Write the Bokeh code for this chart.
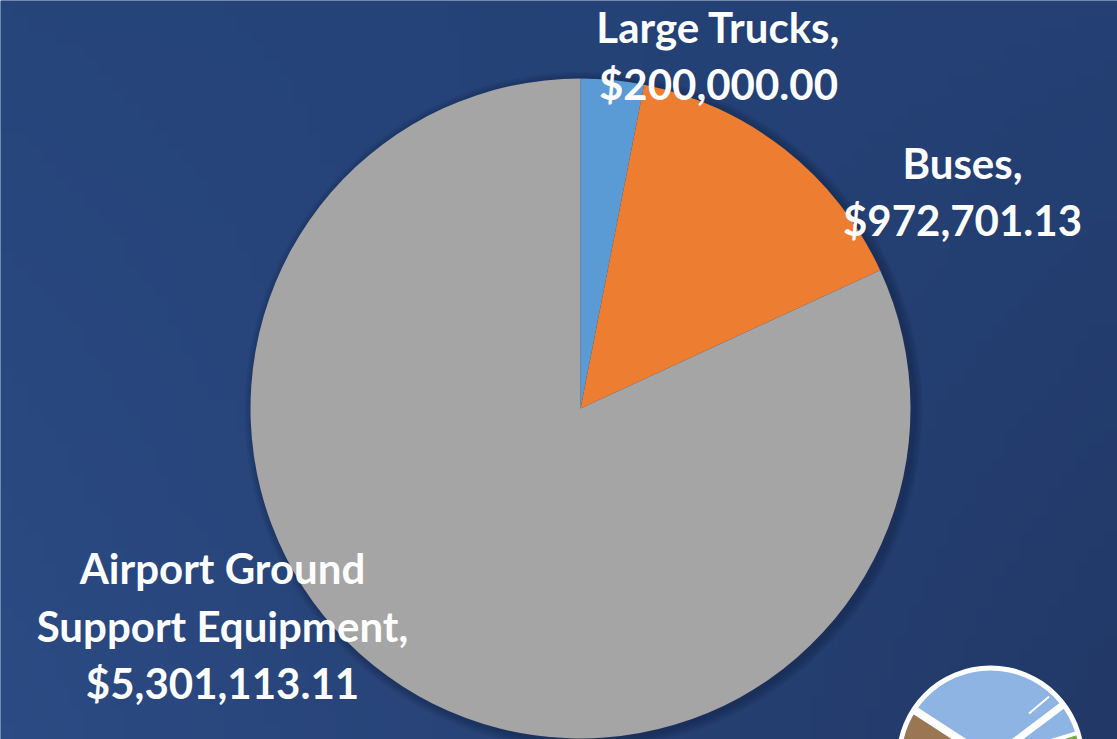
import math
import textwrap
import numpy as np
from bokeh.plotting import figure
from bokeh.models import Range1d
from bokeh.core.properties import value
from bokeh.embed import file_html
from bokeh.resources import INLINE

# ---- data ----
categories = ["Large Trucks", "Buses", "Airport Ground Support Equipment"]
amounts = [200000.00, 972701.13, 5301113.11]
slice_colors = ["#5B9BD5", "#ED7D31", "#A5A5A5"]

# ---- layout (reference pixel coords; y measured from top) ----
W, H = 1117, 739
def Y(y):
    return H - y

p = figure(width=W, height=H, x_range=Range1d(0, W), y_range=Range1d(0, H),
           output_backend="svg", toolbar_location=None, min_border=0)
p.axis.visible = False
p.grid.visible = False
p.outline_line_color = None
p.background_fill_color = "#25437A"
p.border_fill_color = "#25437A"

# background gradient
nx, ny = 80, 50
tl = np.array([38, 69, 123]); tr = np.array([36, 64, 116])
bl = np.array([44, 75, 132]); br = np.array([34, 57, 103])
u = np.linspace(0, 1, nx)[None, :, None]
v = np.linspace(0, 1, ny)[:, None, None]  # row 0 = bottom
top = tl * (1 - u) + tr * u
bot = bl * (1 - u) + br * u
rgb = bot * (1 - v) + top * v
img = np.zeros((ny, nx), dtype=np.uint32)
view = img.view(dtype=np.uint8).reshape((ny, nx, 4))
view[:, :, 0:3] = rgb.astype(np.uint8)
view[:, :, 3] = 255
p.image_rgba(image=[img], x=0, y=0, dw=W, dh=H)

# pie shadow
cx, cy, R = 580, Y(408), 330
for k in range(1, 7):
    p.circle(x=cx + 3, y=cy - 2, radius=R + k * 1.5, fill_color="#0d1a33",
             fill_alpha=0.07, line_color=None)

# pie
total = sum(amounts)
starts, ends = [], []
a = math.pi / 2
for v_ in amounts:
    starts.append(a)
    a -= 2 * math.pi * v_ / total
    ends.append(a)
p.wedge(x=cx, y=cy, radius=R, start_angle=starts, end_angle=ends, direction="clock",
        fill_color=slice_colors, line_color=None)

# labels
labels = [textwrap.fill(c + ",", width=20) + "\n$" + f"{v_:,.2f}" for c, v_ in zip(categories, amounts)]
lx = [718, 962, 222]
ly = [Y(55), Y(191), Y(625)]
p.text(x=lx, y=ly, text=labels, text_font=value("Lato"), text_font_style="bold",
       text_font_size="42px", text_color="white", text_align="center",
       text_baseline="middle", text_line_height=1.15)

# logo (decoration, bottom right)
lcx, lcy = 990, Y(759)
p.circle(x=lcx, y=lcy, radius=94, fill_color="white", line_color=None)
p.circle(x=lcx, y=lcy, radius=89, fill_color="#8EB4E3", line_color=None)
p.wedge(x=lcx, y=lcy, radius=89, start_angle=math.radians(147), end_angle=math.radians(230),
        fill_color="#9B7653", line_color=None)
p.wedge(x=lcx, y=lcy, radius=89, start_angle=math.radians(-40), end_angle=math.radians(16),
        fill_color="#77A843", line_color=None)
for ang, w in [(147, 8), (37, 7), (17, 4)]:
    p.segment(x0=lcx, y0=lcy, x1=lcx + 92 * math.cos(math.radians(ang)),
              y1=lcy + 92 * math.sin(math.radians(ang)), line_color="white", line_width=w)
p.segment(x0=lcx + 60 * math.cos(math.radians(50)), y0=lcy + 60 * math.sin(math.radians(50)),
          x1=lcx + 86 * math.cos(math.radians(47)), y1=lcy + 86 * math.sin(math.radians(47)),
          line_color="white", line_width=2)

open("out.html", "w").write(file_html(p, INLINE))
